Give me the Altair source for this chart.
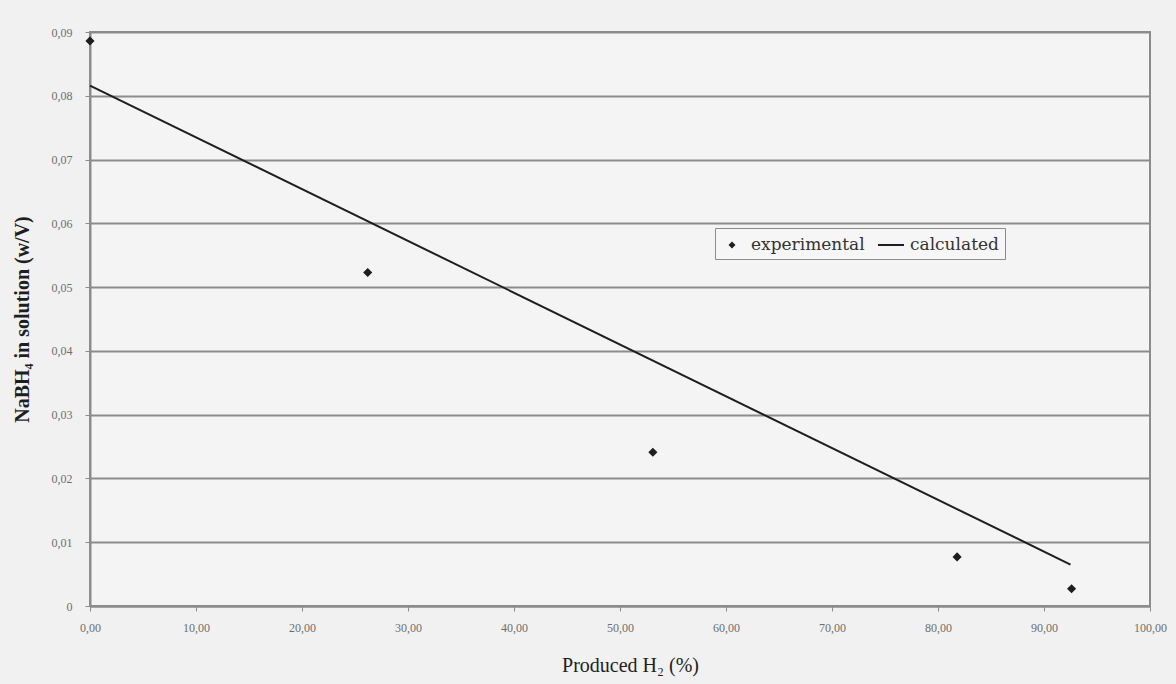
import altair as alt
import pandas as pd

# ---- data ----
exp_x = [0.0, 26.2, 53.1, 81.8, 92.6]
exp_y = [0.0886, 0.0523, 0.0241, 0.0077, 0.0027]
calc_x = [0.0, 92.5]
calc_y = [0.0816, 0.0065]
x_ticks = [0, 10, 20, 30, 40, 50, 60, 70, 80, 90, 100]
y_ticks = [0, 0.01, 0.02, 0.03, 0.04, 0.05, 0.06, 0.07, 0.08, 0.09]
series = ["experimental", "calculated"]

exp_df = pd.DataFrame({"x": exp_x, "y": exp_y, "series": series[0]})
calc_df = pd.DataFrame({"x": calc_x, "y": calc_y, "series": series[1]})

FONT = "Liberation Serif"
INK = "#1e1e1e"
GRID = "#8c8c8c"

x_enc = alt.X(
    "x:Q",
    scale=alt.Scale(domain=[0, 100], nice=False, zero=False),
    axis=alt.Axis(
        values=x_ticks,
        labelExpr="replace(format(datum.value, '.2f'), '.', ',')",
        title="Produced H₂ (%)",
        titleFont=FONT, titleFontSize=20, titleFontWeight="normal", titleColor=INK,
        titleX=540, titleY=59, titleBaseline="middle", titleAlign="center",
        labelFont=FONT, labelFontSize=12, labelColor="#6e6e6e", labelPadding=11,
        labelFlush=False,
        tickSize=5, tickColor=GRID, domainColor=GRID, domainWidth=2, grid=False,
    ),
)
y_enc = alt.Y(
    "y:Q",
    scale=alt.Scale(domain=[0, 0.09], nice=False),
    axis=alt.Axis(
        values=y_ticks,
        labelExpr="datum.value == 0 ? '0' : replace(format(datum.value, '.2f'), '.', ',')",
        title="NaBH₄ in solution (w/V)",
        titleFont=FONT, titleFontSize=20, titleFontWeight="bold", titleColor=INK,
        titleAngle=-90, titleX=-68, titleY=287, titleBaseline="middle", titleAlign="center",
        labelFont=FONT, labelFontSize=12, labelColor="#6e6e6e", labelPadding=13,
        labelFlush=False,
        tickSize=5, tickColor=GRID, domainColor=GRID, domainWidth=2,
        grid=True, gridColor=GRID, gridWidth=2,
    ),
)

diamond = "M0,-0.35L0.35,0L0,0.35L-0.35,0Z"
dash = "M-1.3,-0.1H1.3V0.1H-1.3Z"

line = alt.Chart(calc_df).mark_line(color=INK, strokeWidth=2).encode(x=x_enc, y=y_enc)

points = alt.Chart(exp_df).mark_point(
    filled=True, fill=INK, stroke=INK, strokeWidth=1.5, size=400, opacity=1
).encode(
    x=x_enc,
    y=y_enc,
    shape=alt.Shape(
        "series:N",
        scale=alt.Scale(domain=series, range=[diamond, dash]),
        legend=alt.Legend(
            title=None, orient="none", legendX=625, legendY=196,
            direction="horizontal", symbolSize=400,
            symbolFillColor=INK, symbolStrokeColor=INK, symbolStrokeWidth=1.5,
            symbolOpacity=1,
            labelFont="DejaVu Serif", labelFontSize=17, labelColor="#333",
            padding=6, strokeColor="#8c8c8c", fillColor="#f6f6f6",
            columnPadding=10, labelOffset=8,
        ),
    ),
)

chart = alt.layer(line, points).properties(
    width=1060, height=574,
    background="#f1f1f1",
    padding={"left": 90, "top": 32, "right": 26, "bottom": 78},
    autosize=alt.AutoSizeParams(type="none"),
).configure_view(stroke=GRID, strokeWidth=2, fill="#f4f4f4")

chart.save("out.html", embed_options={"renderer": "svg", "actions": False})
